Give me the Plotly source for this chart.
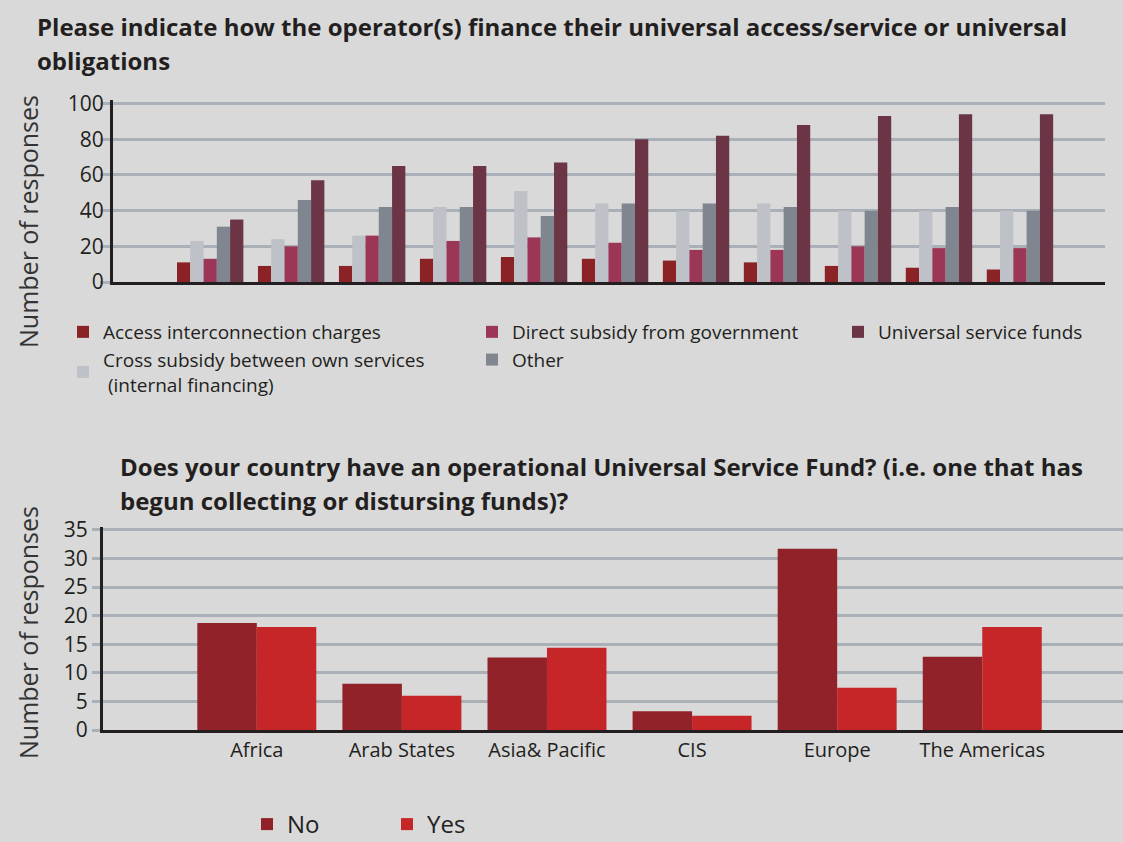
import plotly.graph_objects as go

# ---------------- data ----------------
periods = ["P1", "P2", "P3", "P4", "P5", "P6", "P7", "P8", "P9", "P10", "P11"]
access_interconnection = [11, 9, 9, 13, 14, 13, 12, 11, 9, 8, 7]
cross_subsidy = [23, 24, 26, 42, 51, 44, 40, 44, 40, 40, 40]
direct_subsidy = [13, 20, 26, 23, 25, 22, 18, 18, 20, 19, 19]
other = [31, 46, 42, 42, 37, 44, 44, 42, 40, 42, 40]
universal_funds = [35, 57, 65, 65, 67, 80, 82, 88, 93, 94, 94]
top_ticks = [0, 20, 40, 60, 80, 100]

regions = ["Africa", "Arab States", "Asia& Pacific", "CIS", "Europe", "The Americas"]
usf_no = [18.7, 8.1, 12.7, 3.3, 31.7, 12.8]
usf_yes = [18.0, 6.0, 14.4, 2.5, 7.4, 18.0]
bottom_ticks = [0, 5, 10, 15, 20, 25, 30, 35]

# ---------------- style ----------------
BG = "#D9D9D9"
GRID = "#A9B0B7"
AXIS = "#231F20"
TXT = "#231F20"
FONT = "Open Sans"

W, H = 1123, 842

def px_x(p):
    return p / W

def px_y(p):
    return 1 - p / H

fig = go.Figure()

top_series = [
    ("Access interconnection charges", access_interconnection, "#8B2226", "legend", 1),
    ("Cross subsidy between own services<br> (internal financing)", cross_subsidy, "#BFC1C8", "legend", 2),
    ("Direct subsidy from government", direct_subsidy, "#9B3656", "legend2", 3),
    ("Other", other, "#7F868F", "legend2", 4),
    ("Universal service funds", universal_funds, "#6B3545", "legend3", 5),
]
for name, vals, color, leg, rank in top_series:
    fig.add_trace(go.Bar(
        x=periods, y=vals, name=name, marker=dict(color=color, line=dict(width=0)),
        xaxis="x", yaxis="y", legend=leg, legendrank=rank,
    ))

fig.add_trace(go.Bar(x=regions, y=usf_no, name="No", marker=dict(color="#912229", line=dict(width=0)),
                     xaxis="x2", yaxis="y2", legend="legend4", legendrank=1))
fig.add_trace(go.Bar(x=regions, y=usf_yes, name="Yes", marker=dict(color="#C62628", line=dict(width=0)),
                     xaxis="x2", yaxis="y2", legend="legend4", legendrank=2))

leg_common = dict(bgcolor="rgba(0,0,0,0)", borderwidth=0, xanchor="left", yanchor="top",
                  font=dict(family=FONT, size=19, color=TXT), tracegroupgap=2,
                  traceorder="normal")

fig.update_layout(
    width=W, height=H,
    margin=dict(l=0, r=0, t=0, b=0, autoexpand=False),
    paper_bgcolor=BG, plot_bgcolor=BG,
    barmode="group", bargap=0.18, bargroupgap=0,
    font=dict(family=FONT, color=TXT),
    xaxis=dict(domain=[px_x(113), px_x(1105)], type="category", range=[-1.2, 11.05],
               showticklabels=False, showgrid=False, zeroline=False, ticks="",
               showline=True, linecolor=AXIS, linewidth=3, anchor="y"),
    yaxis=dict(domain=[px_y(282), px_y(100)], range=[0, 102], tickvals=top_ticks,
               showgrid=True, gridcolor=GRID, gridwidth=3, zeroline=False,
               showline=True, linecolor=AXIS, linewidth=3,
               ticks="outside", ticklen=10, tickcolor=GRID, tickwidth=3,
               ticklabelstandoff=-8,
               tickfont=dict(family=FONT, size=21, color=TXT), anchor="x"),
    xaxis2=dict(domain=[px_x(103), 1.0], type="category", range=[-1.06, 5.97],
                showgrid=False, zeroline=False, ticks="",
                showline=True, linecolor=AXIS, linewidth=3, anchor="y2",
                tickfont=dict(family=FONT, size=20, color=TXT)),
    yaxis2=dict(domain=[px_y(730), px_y(527)], range=[0, 35.5], tickvals=bottom_ticks,
                showgrid=True, gridcolor=GRID, gridwidth=3, zeroline=False,
                showline=True, linecolor=AXIS, linewidth=3,
                ticks="outside", ticklen=8, tickcolor=GRID, tickwidth=3,
                tickfont=dict(family=FONT, size=21, color=TXT), anchor="x2"),
    legend=dict(x=px_x(63), y=px_y(313), **leg_common),
    legend2=dict(x=px_x(472), y=px_y(313), **leg_common),
    legend3=dict(x=px_x(838), y=px_y(313), **leg_common),
    legend4=dict(x=px_x(247), y=px_y(802), xanchor="left", yanchor="top", orientation="h",
                 bgcolor="rgba(0,0,0,0)", font=dict(family=FONT, size=24, color=TXT),
                 entrywidth=95, traceorder="normal"),
    showlegend=True,
)

title_font = dict(family=FONT, size=24, color=TXT)
annots = [
    ("Please indicate how the operator(s) finance their universal access/service or universal", 35, 27),
    ("obligations", 35, 60),
    ("Does your country have an operational Universal Service Fund? (i.e. one that has", 118, 467),
    ("begun collecting or distursing funds)?", 118, 500),
]
for text, x, y in annots:
    fig.add_annotation(text="<b>" + text + "</b>", x=px_x(x), y=px_y(y), xref="paper", yref="paper",
                       xanchor="left", yanchor="middle", showarrow=False, font=title_font)

for y in (222, 633):
    fig.add_annotation(text="Number of responses", x=px_x(28), y=px_y(y), xref="paper", yref="paper",
                       xanchor="center", yanchor="middle", textangle=-90, showarrow=False,
                       font=dict(family=FONT, size=25, color="#333333"))

fig.write_html("out.html")
